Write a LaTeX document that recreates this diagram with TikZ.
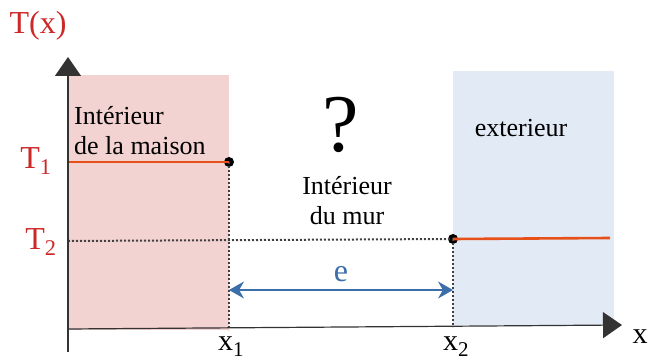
\documentclass[tikz,border=0pt]{standalone}
\usepackage{fontspec}
\setmainfont{Liberation Serif}
\usetikzlibrary{arrows.meta}
\definecolor{pinkfill}{RGB}{243,210,210}
\definecolor{bluefill}{RGB}{226,234,245}
\definecolor{orangeline}{RGB}{232,80,26}
\definecolor{redtext}{RGB}{205,40,40}
\definecolor{bluearrow}{RGB}{60,110,170}
\tikzset{
  axis/.style={line width=1.2pt, black!80, -{Triangle[width=26pt,length=19pt]}},
  templine/.style={line width=2.6pt, orangeline},
  guide/.style={line width=2pt, black!75, dash pattern=on 2pt off 2pt},
  pt/.style={circle, fill=black, inner sep=0pt, minimum size=10pt},
  redlbl/.style={text=redtext, font=\fontsize{32}{34}\selectfont},
  axlbl/.style={font=\fontsize{30}{32}\selectfont, inner sep=0pt},
  lbl/.style={font=\fontsize{26}{30}\selectfont, align=center, inner sep=0pt},
  dim/.style={line width=1.2pt, bluearrow, {Stealth[width=17pt,length=15pt]}-{Stealth[width=17pt,length=15pt]}}
}
\begin{document}
\begin{tikzpicture}[x=1pt,y=-1pt]
\useasboundingbox (0,0) rectangle (654,363);
\fill[pinkfill] (68,75) rectangle (229,330);
\fill[bluefill] (453,71) rectangle (614,325);
\coordinate (o) at (68,352);
\coordinate (ytop) at (68,57);
\coordinate (xl) at (68,329);
\coordinate (xr) at (622,325);
\coordinate (t1l) at (68,162);
\coordinate (t2l) at (68,241);
\coordinate (x1b) at (229,330);
\coordinate (x2b) at (453,327);
\coordinate (t2r) at (610,238);
\node[pt] (p1) at (229,162) {};
\node[pt] (p2) at (453,239) {};
\draw[guide] (t2l) -- (p2.center);
\draw[guide] (p1.center) -- (x1b);
\draw[guide] (p2.center) -- (x2b);
\draw[templine] (t1l) -- (p1.center);
\draw[templine] (p2.center) -- (t2r);
\draw[axis] (o) -- (ytop);
\draw[axis] (xl) -- (xr);
\coordinate (d1) at (229,290);
\coordinate (d2) at (453,290);
\draw[dim] (d1) -- (d2);
\node[text=bluearrow, font=\fontsize{32}{34}\selectfont] (e) at (341,274) {e};
\node[redlbl] (Tx) at (38,26) {T(x)};
\node[redlbl] (T1) at (36,161) {T\textsubscript{1}};
\node[redlbl] (T2) at (41,242) {T\textsubscript{2}};
\node[axlbl, anchor=north] (x1) at (231,337) {x\textsubscript{1}};
\node[axlbl, anchor=north] (x2) at (456,337) {x\textsubscript{2}};
\node[axlbl] (x) at (640,337) {x};
\node[font=\fontsize{82}{84}\selectfont] (q) at (341,125) {?};
\node[lbl, align=left, anchor=west] (maison) at (74,131) {Intérieur\\de la maison};
\node[lbl] (mur) at (347,201) {Intérieur\\du mur};
\node[lbl] (ext) at (521,128) {exterieur};
\end{tikzpicture}
\end{document}
